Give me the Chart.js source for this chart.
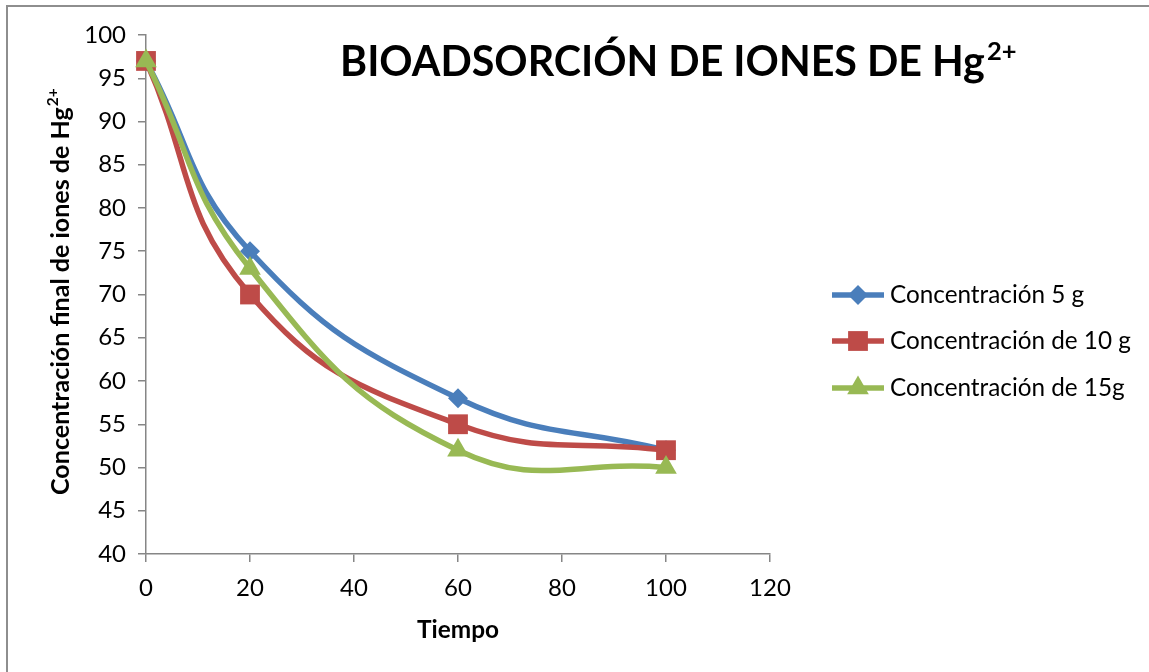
<!DOCTYPE html>
<html><head><meta charset="utf-8">
<script src="https://cdn.jsdelivr.net/npm/chart.js@4/dist/chart.umd.min.js"></script>
<style>html,body{margin:0;padding:0;background:#fff}#wrap{width:1149px;height:672px}</style>
</head><body><div id="wrap"><canvas id="c" width="1149" height="672"></canvas></div>
<script>
const tiempo = [0, 20, 60, 100];
const conc5g = [97, 75, 58, 52];
const conc10g = [97, 70, 55, 52];
const conc15g = [97, 73, 52, 50];
const seriesNames = ['Concentración 5 g', 'Concentración de 10 g', 'Concentración de 15g'];
const titleMain = 'BIOADSORCIÓN DE IONES DE Hg';
const titleSup = '2+';
const yTitleMain = 'Concentración final de iones de Hg';
const yTitleSup = '2+';
const xTitle = 'Tiempo';
const xTickValues = [0, 20, 40, 60, 80, 100, 120];
const yTickValues = [40, 45, 50, 55, 60, 65, 70, 75, 80, 85, 90, 95, 100];

const FONT = 'Lato, "Open Sans", sans-serif';
const colors = ['#4A7EBB', '#BE4B48', '#98B954'];
const styles = ['rectRot', 'rect', 'triangle'];
const radii = [10, 14, 12.5];
const seriesVals = [conc5g, conc10g, conc15g];

const datasets = seriesVals.map((vals, i) => ({
  label: seriesNames[i],
  data: tiempo.map((t, k) => ({x: t, y: vals[k]})),
  borderColor: colors[i],
  backgroundColor: colors[i],
  borderWidth: 5.5,
  pointStyle: styles[i],
  pointRadius: radii[i],
  pointBorderWidth: 0,
  pointBackgroundColor: colors[i],
  tension: 0.45,
  showLine: true,
  clip: false,
  order: 3 - i
}));

function fitFont(ctx, text, weight, target) {
  ctx.font = weight + ' 40px ' + FONT;
  return 40 * target / ctx.measureText(text).width;
}

const decor = {
  id: 'decor',
  beforeDraw(chart) {
    const ctx = chart.ctx;
    ctx.save();
    ctx.strokeStyle = '#8E8E8E';
    ctx.lineWidth = 2;
    ctx.strokeRect(7, 6, 1300, 800);
    ctx.restore();
  },
  afterDraw(chart) {
    const ctx = chart.ctx;
    ctx.save();
    ctx.fillStyle = '#000';
    // Title
    let fs = fitFont(ctx, titleMain, 'bold', 645);
    ctx.font = 'bold ' + fs + 'px ' + FONT;
    ctx.textBaseline = 'alphabetic';
    ctx.textAlign = 'left';
    ctx.fillText(titleMain, 340, 76);
    let w = ctx.measureText(titleMain).width;
    ctx.font = 'bold ' + (fs * 0.62) + 'px ' + FONT;
    ctx.fillText(titleSup, 340 + w + 2, 60);
    // X title
    let xfs = fitFont(ctx, xTitle, 'bold', 82);
    ctx.font = 'bold ' + xfs + 'px ' + FONT;
    ctx.textAlign = 'center';
    ctx.textBaseline = 'middle';
    ctx.fillText(xTitle, 458, 630);
    // Y title
    ctx.save();
    ctx.translate(69, 495);
    ctx.rotate(-Math.PI / 2);
    let yfs = fitFont(ctx, yTitleMain, 'bold', 388);
    ctx.font = 'bold ' + yfs + 'px ' + FONT;
    ctx.textAlign = 'left';
    ctx.textBaseline = 'alphabetic';
    ctx.fillText(yTitleMain, 0, 0);
    let yw = ctx.measureText(yTitleMain).width;
    ctx.font = 'bold ' + (yfs * 0.62) + 'px ' + FONT;
    ctx.fillText(yTitleSup, yw + 1, -yfs * 0.42);
    ctx.restore();
    // Legend
    const ly = [295, 341, 388];
    let lfs = fitFont(ctx, seriesNames[1], 'normal', 241);
    chart.data.datasets.forEach((ds, i) => {
      ctx.strokeStyle = ds.borderColor;
      ctx.lineWidth = 5.5;
      ctx.beginPath();
      ctx.moveTo(832, ly[i]);
      ctx.lineTo(884, ly[i]);
      ctx.stroke();
      ctx.fillStyle = ds.backgroundColor;
      Chart.helpers.drawPoint(ctx, {pointStyle: ds.pointStyle, radius: ds.pointRadius, borderWidth: 0, rotation: 0}, 858, ly[i]);
      ctx.fillStyle = '#000';
      ctx.font = lfs + 'px ' + FONT;
      ctx.textAlign = 'left';
      ctx.textBaseline = 'middle';
      ctx.fillText(ds.label, 890, ly[i]);
    });
    ctx.restore();
  }
};

new Chart(document.getElementById('c'), {
  type: 'scatter',
  data: {datasets},
  options: {
    responsive: false,
    devicePixelRatio: 1,
    animation: false,
    layout: {padding: {top: 35, right: 379, left: 0, bottom: 0}},
    plugins: {legend: {display: false}, tooltip: {enabled: false}, title: {display: false}},
    scales: {
      x: {
        type: 'linear', min: 0, max: 120,
        afterFit: s => { s.height = 118; },
        afterBuildTicks: s => { s.ticks = xTickValues.map(v => ({value: v})); },
        ticks: {font: {family: FONT, size: 24}, color: '#000', padding: 12, maxRotation: 0},
        grid: {drawOnChartArea: false, drawTicks: true, tickLength: 8, color: '#868686', lineWidth: 1.5},
        border: {color: '#868686', width: 1.5}
      },
      y: {
        type: 'linear', min: 40, max: 100,
        afterFit: s => { s.width = 146; },
        afterBuildTicks: s => { s.ticks = yTickValues.map(v => ({value: v})); },
        ticks: {font: {family: FONT, size: 24}, color: '#000', padding: 12},
        grid: {drawOnChartArea: false, drawTicks: true, tickLength: 8, color: '#868686', lineWidth: 1.5},
        border: {color: '#868686', width: 1.5}
      }
    }
  },
  plugins: [decor]
});
</script></body></html>
